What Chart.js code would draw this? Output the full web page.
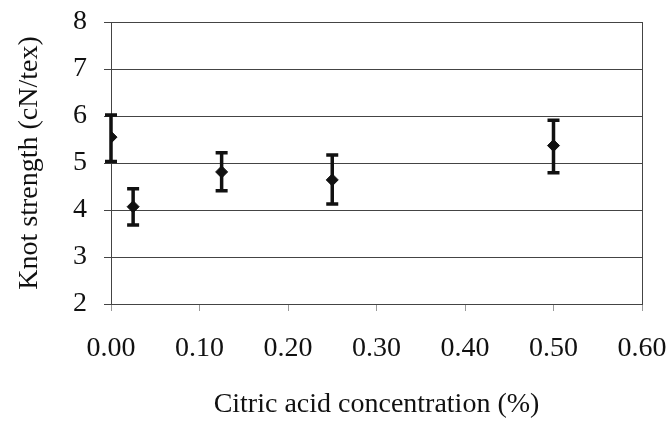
<!DOCTYPE html>
<html>
<head>
<meta charset="utf-8">
<script src="https://cdn.jsdelivr.net/npm/chart.js@4/dist/chart.umd.min.js"></script>
<style>
  body { margin: 0; background: #fff; }
  #wrap { width: 670px; height: 421px; }
</style>
</head>
<body>
<div id="wrap"><canvas id="grafico" width="670" height="421"></canvas></div>
<script>
// valores
const concentracoes = [0.0, 0.025, 0.125, 0.25, 0.5];
const resistencia = [5.55, 4.07, 4.81, 4.64, 5.37];
const erroBaixo = [5.03, 3.68, 4.41, 4.13, 4.79];
const erroAlto = [6.02, 4.45, 5.22, 5.17, 5.91];

const fonte = "'Liberation Serif', 'DejaVu Serif', serif";

// barras de erro e borda direita
const barrasErro = {
  id: 'barrasErro',
  beforeDatasetsDraw(chart) {
    const ctx = chart.ctx;
    const x = chart.scales.x;
    const y = chart.scales.y;
    const area = chart.chartArea;
    ctx.save();
    ctx.strokeStyle = '#444';
    ctx.lineWidth = 1;
    ctx.beginPath();
    ctx.moveTo(area.right + 0.5, area.top);
    ctx.lineTo(area.right + 0.5, area.bottom);
    ctx.stroke();

    ctx.strokeStyle = '#111';
    ctx.lineWidth = 3.5;
    concentracoes.forEach((c, i) => {
      const px = x.getPixelForValue(c);
      const top = y.getPixelForValue(erroAlto[i]);
      const bot = y.getPixelForValue(erroBaixo[i]);
      ctx.beginPath();
      ctx.moveTo(px, top);
      ctx.lineTo(px, bot);
      ctx.moveTo(px - 6, top);
      ctx.lineTo(px + 6, top);
      ctx.moveTo(px - 6, bot);
      ctx.lineTo(px + 6, bot);
      ctx.stroke();
    });
    ctx.restore();
  }
};

const ctx = document.getElementById('grafico').getContext('2d');

new Chart(ctx, {
  type: 'scatter',
  data: {
    datasets: [{
      data: concentracoes.map((c, i) => ({ x: c, y: resistencia[i] })),
      pointStyle: 'rectRot',
      pointRadius: 6,
      pointHoverRadius: 6,
      backgroundColor: '#111',
      borderColor: '#111',
      borderWidth: 1
    }]
  },
  options: {
    responsive: false,
    animation: false,
    layout: { padding: { top: 22, right: 28, left: 0, bottom: 0 } },
    plugins: {
      legend: { display: false },
      tooltip: { enabled: false }
    },
    scales: {
      x: {
        type: 'linear',
        min: 0,
        max: 0.6,
        afterFit: (s) => {
          s.height = 117;
          s.paddingLeft = 0;
          s.paddingRight = 0;
        },
        grid: {
          drawOnChartArea: false,
          drawTicks: true,
          tickLength: 7,
          color: '#999'
        },
        border: { display: true, color: '#444', width: 1 },
        ticks: {
          stepSize: 0.1,
          padding: 21,
          color: '#111',
          maxRotation: 0,
          font: { family: fonte, size: 28 },
          callback: (v) => v.toFixed(2)
        },
        title: {
          display: true,
          text: 'Citric acid concentration (%)',
          color: '#111',
          font: { family: fonte, size: 28 },
          padding: { top: 0, bottom: 0 }
        }
      },
      y: {
        min: 2,
        max: 8,
        afterFit: (s) => {
          s.width = 111;
          s.paddingTop = 0;
          s.paddingBottom = 0;
        },
        grid: {
          color: '#444',
          lineWidth: 1,
          tickLength: 7
        },
        border: { display: true, color: '#444', width: 1 },
        ticks: {
          stepSize: 1,
          padding: 17,
          color: '#111',
          font: { family: fonte, size: 28 }
        },
        title: {
          display: true,
          text: 'Knot strength (cN/tex)',
          color: '#111',
          font: { family: fonte, size: 28 },
          padding: { top: 13, bottom: 0 }
        }
      }
    }
  },
  plugins: [barrasErro]
});
</script>
</body>
</html>
